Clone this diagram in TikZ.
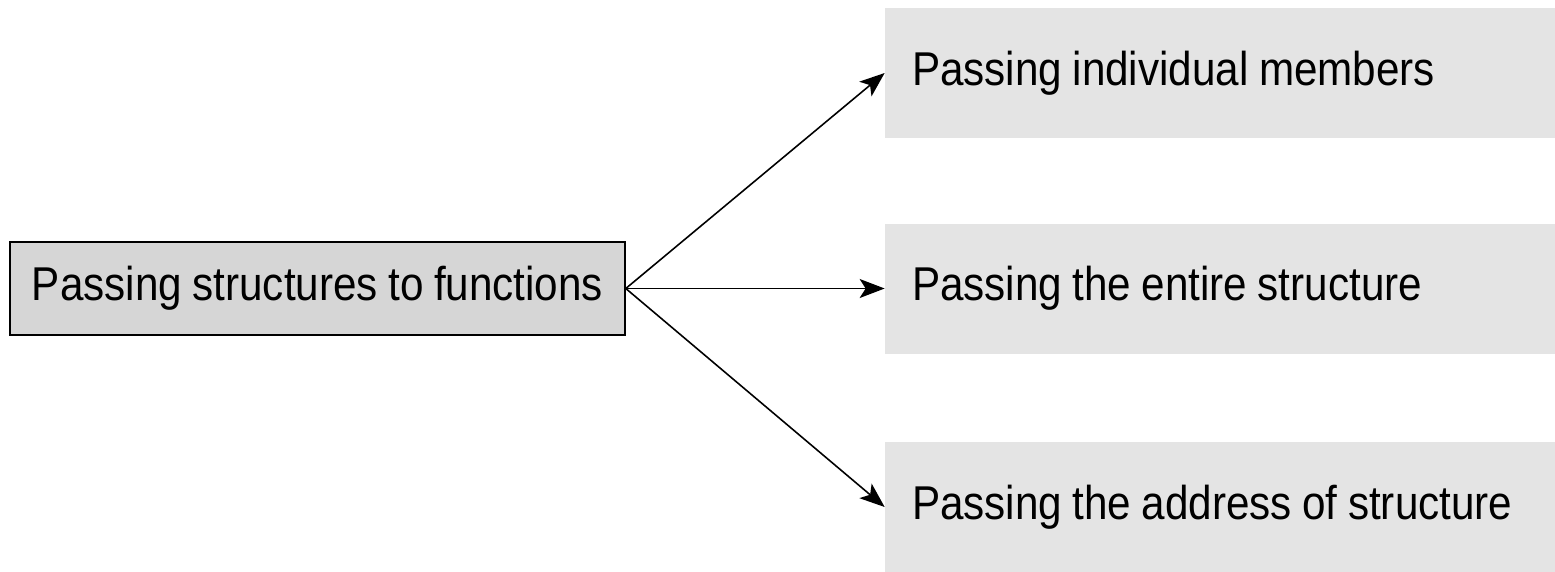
\documentclass[tikz,border=0pt]{standalone}
\usepackage{fontspec}
\setmainfont{Liberation Sans}[FakeStretch=0.89, WordSpace=0.89]
\usetikzlibrary{arrows.meta}
\definecolor{srcgray}{HTML}{D6D6D6}
\definecolor{waygray}{HTML}{E4E4E4}
\begin{document}
\begin{tikzpicture}[
    srcbox/.style={draw=black, line width=0.9pt, fill=srcgray,
      minimum width=12.3cm, minimum height=1.86cm, inner sep=0pt,
      font=\fontsize{27}{31}\selectfont},
    waybox/.style={fill=waygray, minimum height=2.6cm, inner ysep=0pt,
      inner xsep=0.54cm, text width=12.32cm, align=flush left,
      font=\fontsize{27}{31}\selectfont},
    link/.style={line width=0.9pt, -{Stealth[length=0.5cm, width=0.38cm, inset=0.12cm]}}]
  \useasboundingbox (0,0) rectangle (31.1,11.42);
  \draw
    (6.35,5.65) node[srcbox] (src){Passing structures to functions}
    (24.4,9.96) node[waybox] (members){Passing individual members}
    (24.4,5.65) node[waybox] (entire){Passing the entire structure}
    (24.4,1.28) node[waybox] (address){Passing the address of structure};
  \begin{scope}[link]
    \draw (src.east) to (members.west);
    \draw (src.east) to (entire.west);
    \draw (src.east) to (address.west);
  \end{scope}
\end{tikzpicture}
\end{document}
